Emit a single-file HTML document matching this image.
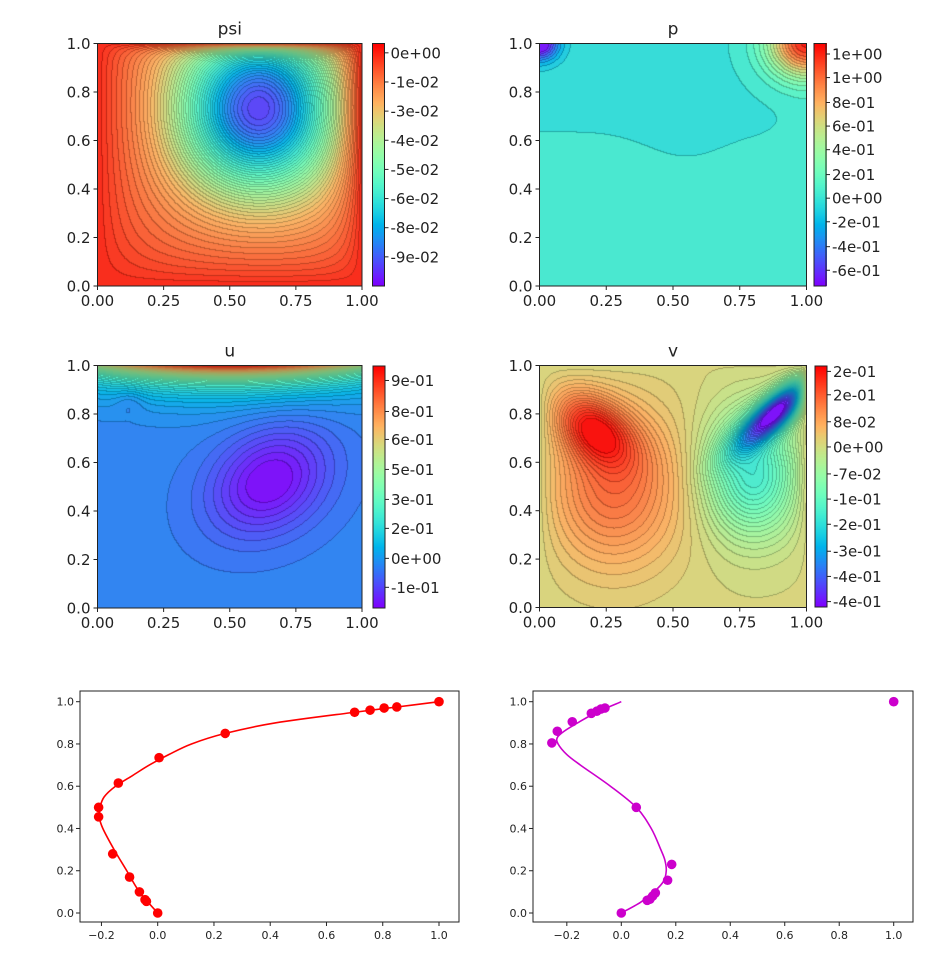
<!DOCTYPE html>
<html><head><meta charset="utf-8">
<style>
body{margin:0;background:#fff;width:944px;height:966px;overflow:hidden;position:relative;font-family:"DejaVu Sans","Liberation Sans",sans-serif}
canvas{position:absolute}
svg{position:absolute;left:0;top:0}
</style></head>
<body>
<canvas id="c-psi" style="left:98px;top:43px" width="264" height="243"></canvas>
<canvas id="c-p" style="left:539px;top:43px" width="268" height="243"></canvas>
<canvas id="c-u" style="left:98px;top:365px" width="264" height="243"></canvas>
<canvas id="c-v" style="left:539px;top:365px" width="268" height="243"></canvas>
<canvas id="cb-psi" style="left:373px;top:43px" width="12" height="243"></canvas>
<canvas id="cb-p" style="left:814px;top:43px" width="13" height="243"></canvas>
<canvas id="cb-u" style="left:373px;top:366px" width="12" height="242"></canvas>
<canvas id="cb-v" style="left:815px;top:366px" width="12" height="241"></canvas>
<svg id="s" width="944" height="966"></svg>
<script>
// ---- bottom chart data ----
const uPtsU=[0,-0.04,-0.045,-0.065,-0.1,-0.16,-0.21,-0.21,-0.14,0.005,0.24,0.7,0.755,0.805,0.85,1.0];
const uPtsY=[0,0.055,0.063,0.1,0.17,0.28,0.455,0.5,0.615,0.735,0.85,0.95,0.96,0.97,0.975,1.0];
const uLineY=[0,0.1,0.2,0.3,0.4,0.45,0.5,0.55,0.6,0.65,0.7,0.75,0.8,0.85,0.9,0.95,0.975,1.0];
const uLineU=[0,-0.065,-0.11,-0.155,-0.195,-0.207,-0.205,-0.19,-0.15,-0.09,-0.03,0.04,0.12,0.24,0.42,0.7,0.85,1.0];
const vPtsV=[0,0.095,0.105,0.115,0.125,0.17,0.185,0.055,-0.255,-0.235,-0.18,-0.11,-0.09,-0.075,-0.06,1.0];
const vPtsX=[0,0.06,0.065,0.08,0.095,0.155,0.23,0.5,0.805,0.86,0.905,0.945,0.955,0.965,0.97,1.0];
const vLineX=[0,0.05,0.1,0.15,0.2,0.25,0.3,0.4,0.5,0.6,0.7,0.75,0.8,0.83,0.86,0.9,0.95,1.0];
const vLineV=[0,0.07,0.12,0.155,0.165,0.16,0.145,0.11,0.055,-0.04,-0.15,-0.2,-0.232,-0.235,-0.21,-0.16,-0.09,0.0];
const bxTicks=[-0.2,0,0.2,0.4,0.6,0.8,1.0];
const byTicks=[0,0.2,0.4,0.6,0.8,1.0];
// ---- colorbar tick labels ----
const cbPsiLabels=["0e+00","-1e-02","-3e-02","-4e-02","-5e-02","-6e-02","-8e-02","-9e-02"];
const cbPsiVals=[0.0,-0.0125,-0.025,-0.0375,-0.05,-0.0625,-0.075,-0.0875];
const cbPLabels=["1e+00","1e+00","8e-01","6e-01","4e-01","2e-01","0e+00","-2e-01","-4e-01","-6e-01"];
const cbPVals=[1.12,0.94,0.75,0.57,0.39,0.2,0.02,-0.16,-0.35,-0.53];
const cbULabels=["9e-01","8e-01","6e-01","5e-01","3e-01","2e-01","0e+00","-1e-01"];
const cbUVals=[0.93,0.78,0.645,0.5,0.355,0.215,0.07,-0.07];
const cbVLabels=["2e-01","2e-01","8e-02","0e+00","-7e-02","-1e-01","-2e-01","-3e-01","-4e-01","-4e-01"];
const cbVVals=[0.215,0.15,0.075,0.005,-0.07,-0.14,-0.21,-0.285,-0.355,-0.425];

const NS="http://www.w3.org/2000/svg";
const svg=document.getElementById('s');
function el(tag,attrs,parent){const e=document.createElementNS(NS,tag);for(const k in attrs)e.setAttribute(k,attrs[k]);(parent||svg).appendChild(e);return e;}
function rainbow(t){t=Math.max(0,Math.min(1,t));return [Math.min(1,Math.abs(2*t-0.5))*255,Math.sin(Math.PI*t)*255,Math.cos(Math.PI*t/2)*255];}
const E=Math.exp,PI=Math.PI;
function renderField(id,f,vmin,vmax,nlev){
  const c=document.getElementById(id),W=c.width,H=c.height,ctx=c.getContext('2d');
  const img=ctx.createImageData(W,H),L=new Int16Array(W*H);
  for(let j=0;j<H;j++)for(let i=0;i<W;i++){const x=(i+0.5)/W,y=1-(j+0.5)/H;let t=(f(x,y)-vmin)/(vmax-vmin);L[j*W+i]=Math.max(0,Math.min(nlev-1,Math.floor(t*nlev)));}
  for(let j=0;j<H;j++)for(let i=0;i<W;i++){const l=L[j*W+i];let col=rainbow((l+0.5)/nlev);
    let edge=(i<W-1&&L[j*W+i+1]!==l)||(j<H-1&&L[(j+1)*W+i]!==l);
    let k=edge?0.75:0.93;const o=4*(j*W+i);img.data[o]=col[0]*k+(edge?0:12);img.data[o+1]=col[1]*k+(edge?0:12);img.data[o+2]=col[2]*k+(edge?0:12);img.data[o+3]=255;}
  ctx.putImageData(img,0,0);
}
function renderBar(id){const c=document.getElementById(id),ctx=c.getContext('2d');for(let j=0;j<c.height;j++){const col=rainbow(1-j/(c.height-1));ctx.fillStyle=`rgb(${col[0]|0},${col[1]|0},${col[2]|0})`;ctx.fillRect(0,j,c.width,1);}}
// fields
renderField('c-psi',(x,y)=>{const b=(1-E(-x/0.2))*(1-E(-(1-x)/0.08))*(1-E(-y/0.2))*(1-E(-(1-y)/0.025));const g=E(-((x-0.6)**2/0.1+(y-0.72)**2/0.12));return -0.1*b*(0.2+0.8*g);},-0.1,0.004,55);
renderField('c-u',(x,y)=>{const s=(x-0.65)+(y-0.52),d=(x-0.65)-(y-0.52);return 1.02*E(-(1-y)/0.065)*(0.55+0.45*Math.sin(PI*x))-0.21*E(-(s*s/0.12+d*d/0.07))*(1-E(-y/0.1))*(1-E(-x/0.1))-0.04*E(-((x-0.12)**2+(y-0.85)**2)/0.003);},-0.2,1.0,50);
renderField('c-v',(x,y)=>{const s2=(x-0.2)-(y-0.74),d2=(x-0.2)+(y-0.74);const s=(x-0.9)+(y-0.82),d=(x-0.9)-(y-0.82);
  const pos=(0.17*E(-(s2*s2/0.06+d2*d2/0.025))+0.13*E(-((x-0.28)**2/0.06+(y-0.5)**2/0.1)))*(1-E(-x/0.04))*(1-E(-(1-y)/0.03));
  const neg=(0.45*E(-(s*s/0.08+d*d/0.008))+0.2*E(-((x-0.8)**2/0.03+(y-0.55)**2/0.06)))*(1-E(-(1-x)/0.03))*(1-E(-(1-y)/0.02));
  return pos-neg;},-0.46,0.22,55);
renderField('c-p',(x,y)=>{const y0=0.64-0.1*E(-((x-0.55)**2)/0.04)+0.1*E(-((x-1)**2)/0.01);return 0.0+0.03*(1/(1+E((y-y0)/0.05)))+1.15*E(-((x-1)**2+(y-1)**2)/0.02)-0.75*E(-(x*x+(y-1)**2)/0.005)-0.03*E(-(x*x+(y-1)**2)/0.02)-0.04*E(-((x-0.58)**2+(y-0.79)**2)/0.006);},-0.65,1.2,25);
['cb-psi','cb-p','cb-u','cb-v'].forEach(renderBar);

function fmt(v,d){return (v<0?'\u2212':'')+Math.abs(v).toFixed(d);}
function contourAxes(name,x0,y0,w,h,title,cbx,cby,cbh,cbLabels,cbVals,vmin,vmax){
  const g=el('g',{});
  
  
  const fr=el('rect',{x:x0,y:y0,width:w,height:h,fill:'none',stroke:'#222','stroke-width':1},g);
  
  
  const t=el('text',{x:x0+w/2,y:y0-9,'text-anchor':'middle','font-size':17,fill:'#222'},g);t.textContent=title;
  
  
  [0,0.2,0.4,0.6,0.8,1.0].forEach(v=>{const y=y0+h-v*h;el('line',{x1:x0-4,x2:x0,y1:y,y2:y,stroke:'#222'},g);
    const tx=el('text',{x:x0-7,y:y+5.5,'text-anchor':'end','font-size':15,fill:'#222'},g);tx.textContent=v.toFixed(1);
    
    });
  [0,0.25,0.5,0.75,1.0].forEach(v=>{const x=x0+v*w;el('line',{x1:x,x2:x,y1:y0+h,y2:y0+h+4,stroke:'#222'},g);
    const tx=el('text',{x:x,y:y0+h+20,'text-anchor':'middle','font-size':15,fill:'#222'},g);tx.textContent=v.toFixed(2);
    
    });
  el('rect',{x:cbx,y:cby,width:12,height:cbh,fill:'none',stroke:'#222'},g);
  cbLabels.forEach((lab,i)=>{const y=cby+(vmax-cbVals[i])/(vmax-vmin)*cbh;el('line',{x1:cbx+12,x2:cbx+16,y1:y,y2:y,stroke:'#222'},g);
    const tx=el('text',{x:cbx+18,y:y+5.5,'font-size':15,fill:'#222'},g);tx.textContent=lab;
    
    });
}
contourAxes('psi',97.5,43.5,264.5,242.5,'psi',372.5,43.5,242.5,cbPsiLabels,cbPsiVals,-0.1,0.004);
contourAxes('p',539.5,43.5,267,242.5,'p',814,43.5,242.5,cbPLabels,cbPVals,-0.65,1.2);
contourAxes('u',97.5,365.5,264.5,242.5,'u',373,366,242,cbULabels,cbUVals,-0.17,1.0);
contourAxes('v',539.5,365.5,267,242,'v',815,366,241,cbVLabels,cbVVals,-0.44,0.23);

function lineChart(name,L,R,T,B,xmin,xmax,ymin,ymax,color,lx,ly,px,py){
  const X=v=>L+(v-xmin)/(xmax-xmin)*(R-L),Y=v=>B-(v-ymin)/(ymax-ymin)*(B-T);
  const g=el('g',{});
  
  
  const fr=el('rect',{x:L,y:T,width:R-L,height:B-T,fill:'none',stroke:'#222','stroke-width':1},g);
  
  
  bxTicks.forEach(v=>{const x=X(v);el('line',{x1:x,x2:x,y1:B,y2:B+4,stroke:'#222'},g);
    const t=el('text',{x:x,y:B+17,'text-anchor':'middle','font-size':11,fill:'#222'},g);t.textContent=fmt(v,1);
    
    });
  byTicks.forEach(v=>{const y=Y(v);el('line',{x1:L-4,x2:L,y1:y,y2:y,stroke:'#222'},g);
    const t=el('text',{x:L-6,y:y+4,'text-anchor':'end','font-size':11,fill:'#222'},g);t.textContent=v.toFixed(1);
    
    });
  const P=lx.map((v,i)=>[X(v),Y(ly[i])]);let d='M'+P[0][0]+','+P[0][1];
  for(let i=0;i<P.length-1;i++){const p0=P[Math.max(0,i-1)],p1=P[i],p2=P[i+1],p3=P[Math.min(P.length-1,i+2)];
    d+=` C${p1[0]+(p2[0]-p0[0])/6},${p1[1]+(p2[1]-p0[1])/6} ${p2[0]-(p3[0]-p1[0])/6},${p2[1]-(p3[1]-p1[1])/6} ${p2[0]},${p2[1]}`;}
  const ln=el('path',{d:d,fill:'none',stroke:color,'stroke-width':1.6},g);
  
  
  px.forEach((v,i)=>{const c=el('circle',{cx:X(v),cy:Y(py[i]),r:4.8,fill:color},g);
    
    });
}
lineChart('u-profile',80,459,691,922,-157.7/281.3+80/281.3,(459-157.7)/281.3,(913-922)/211.3,(913-691)/211.3,'#ff0000',uLineU,uLineY,uPtsU,uPtsY);
lineChart('v-profile',533,913,691,922,(533-621.3)/272.4,(913-621.3)/272.4,(913-922)/211.3,(913-691)/211.3,'#cc00cc',vLineV,vLineX,vPtsV,vPtsX);
</script>
</body></html>
